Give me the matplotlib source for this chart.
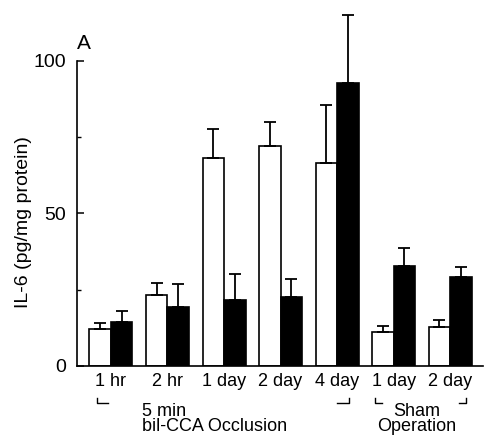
#!/usr/bin/env python3

import numpy as np
import matplotlib
matplotlib.use('Agg')
import matplotlib.pyplot as plt
import matplotlib.transforms as mtransforms

labels = ['1 hr', '2 hr', '1 day', '2 day', '4 day', '1 day', '2 day']
white = [12.1, 23.3, 68.2, 72.1, 66.4, 11.1, 12.8]
white_err = [1.9, 3.9, 9.5, 7.9, 19.2, 2.0, 2.3]
black = [14.4, 19.4, 21.6, 22.6, 92.8, 32.8, 29.2]
black_err = [3.6, 7.5, 8.6, 5.9, 22.2, 5.9, 3.3]


def main():
    plt.rcParams['font.family'] = ['Liberation Sans', 'DejaVu Sans']
    fig = plt.figure(figsize=(4.85, 4.37), dpi=100)
    ax = fig.add_axes([0.1588, 0.1625, 0.837, 0.8236])

    x = np.arange(len(labels))
    w = 0.38
    ekw = dict(elinewidth=1.3, capthick=1.3)
    ax.bar(x - w / 2, white, w, color='white', edgecolor='black', linewidth=1.2,
           yerr=[np.zeros(len(x)), white_err], capsize=4, error_kw=ekw, zorder=2)
    ax.bar(x + w / 2, black, w, color='black', edgecolor='black', linewidth=1.2,
           yerr=[np.zeros(len(x)), black_err], capsize=4, error_kw=ekw, zorder=2)

    ax.set_xlim(-0.60, 6.58)
    ax.set_ylim(0, 118)
    for s in ('top', 'right'):
        ax.spines[s].set_visible(False)
    ax.spines['left'].set_bounds(0, 100)
    ax.spines['left'].set_linewidth(1.2)
    ax.spines['bottom'].set_linewidth(1.2)

    ax.set_yticks([0, 50, 100])
    ax.set_yticks([25, 75], minor=True)
    ax.tick_params(axis='y', which='major', direction='in', length=5, width=1.1,
                   labelsize=14, pad=8)
    ax.tick_params(axis='y', which='minor', direction='in', length=3, width=1.0)
    ax.set_xticks(x)
    ax.set_xticklabels(labels)
    ax.tick_params(axis='x', length=0, labelsize=13, pad=5)

    ax.set_ylabel('IL-6 (pg/mg protein)', fontsize=14)
    ax.yaxis.set_label_coords(-0.111, 0.40)
    ax.text(0.0, 0.897, 'A', transform=ax.transAxes, fontsize=15,
            ha='left', va='center')

    trans = mtransforms.blended_transform_factory(ax.transData, ax.transAxes)
    # group brackets under the tick labels
    y0, y1 = -0.1028, -0.089
    ax.plot([-0.25, -0.25, -0.05], [y1, y0, y0], color='black', lw=1,
            transform=trans, clip_on=False)
    ax.plot([4.0, 4.21, 4.21], [y0, y0, y1], color='black', lw=1,
            transform=trans, clip_on=False)
    ax.plot([4.67, 4.67, 4.80], [y1, y0, y0], color='black', lw=1,
            transform=trans, clip_on=False)
    ax.plot([6.15, 6.28, 6.28], [y0, y0, y1], color='black', lw=1,
            transform=trans, clip_on=False)

    ax.text(0.55, -0.148, '5 min\nbil-CCA Occlusion', transform=trans,
            fontsize=13, ha='left', va='center', linespacing=0.85)
    ax.text(5.4, -0.148, 'Sham\nOperation', transform=trans,
            fontsize=13, ha='center', va='center', linespacing=0.85)

    fig.savefig('out.png', dpi=100)


if __name__ == '__main__':
    main()
